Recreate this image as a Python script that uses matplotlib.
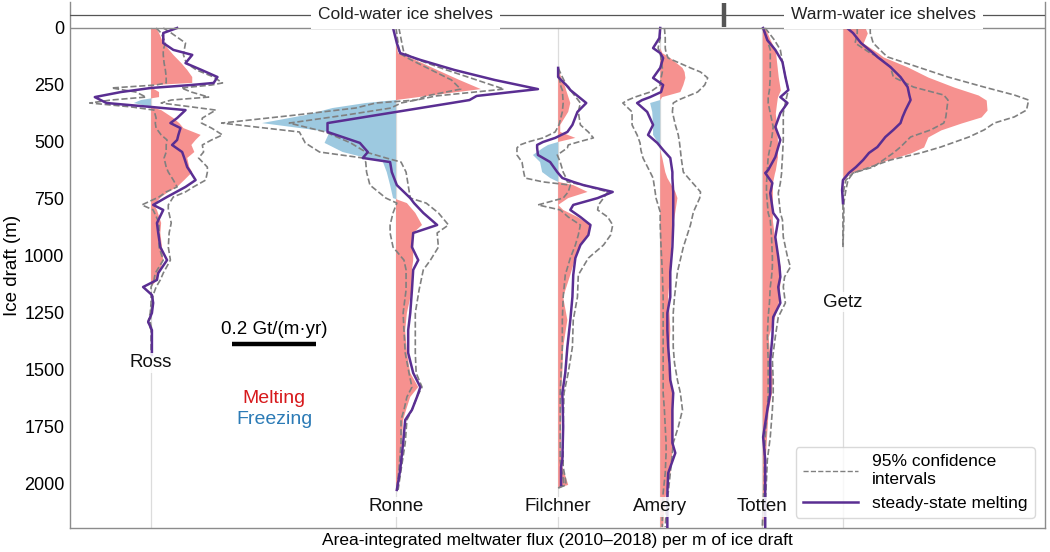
import numpy as np
import matplotlib
matplotlib.use('Agg')
import matplotlib.pyplot as plt
from matplotlib.lines import Line2D

plt.rcParams['font.family'] = ['Liberation Sans', 'DejaVu Sans']

# ---------------- data (depth in m, flux in 1e-3 Gt/(m*yr)) ----------------
shelves = ['Ross', 'Ronne', 'Filchner', 'Amery', 'Totten', 'Getz']

ross_depth = [0, 22, 66, 96, 118, 154, 184, 215, 241, 250, 263, 281, 303, 316, 329, 346, 360, 395, 417, 439,
              469, 491, 513, 544, 570, 610, 632, 667, 697, 719, 741, 776, 798, 855, 899, 961, 1018, 1075, 1105,
              1136, 1171, 1206, 1250, 1289, 1325, 1434]
ross_melt = [12, 19, 29, 43, 53, 72, 86, 98, 98, 5, 2, 19, 19, -24, -41, 0, 24, 53, 67, 77,
             118, 106, 96, 103, 86, 91, 98, 79, 62, 41, 24, 7, 14, 24, 22, 26, 29, 19, 14,
             0, 0, 0, 0, 0, 0, 0]
ross_steady = [62, 29, 29, 53, 98, 82, 120, 158, 149, 96, 0, -72, -134, -120, -106, -2, 82, 62, 46, 70,
               65, 62, 50, 74, 79, 86, 94, 106, 82, 60, 38, 5, 29, 14, 17, 22, 38, 17, 14,
               -19, 2, 5, 2, -7, 2, 2]
ross_ci_low = [12, 24, 34, 29, 29, 31, 34, 36, 36, 12, -94, -36, -12, -96, -146, -48, 7, 12, 10, 12,
               24, 38, 36, 36, 31, 36, 41, 53, 62, 36, 19, -22, 5, 19, 19, 19, 29, 10, 7,
               0, 0, 0, -2, -7, 0, 0]
ross_ci_high = [29, 48, 82, 79, 77, 84, 108, 149, 170, 144, 72, 96, 137, 48, 24, 96, 154, 122, 120, 144,
                170, 144, 122, 125, 113, 134, 134, 130, 101, 82, 53, 41, 41, 48, 43, 41, 46, 29, 22,
                12, 5, 2, 0, -2, 2, 2]

ronne_depth = [0, 66, 110, 140, 184, 228, 268, 298, 316, 329, 351, 382, 417, 456, 504, 544, 570, 588, 632,
               689, 746, 768, 811, 864, 899, 961, 1018, 1061, 1149, 1250, 1325, 1425, 1513, 1575, 1618,
               1675, 1719, 1820, 1939, 2026]
ronne_melt = [0, 0, 5, 46, 98, 151, 202, 74, 0, -72, -151, -216, -319, -158, -170, -127, -70, -31, -22,
              -14, -7, 26, 46, 62, 41, 41, 41, 38, 38, 26, 22, 26, 34, 53, 34,
              24, 17, 14, 7, 0]
ronne_steady = [-7, 2, 10, 58, 139, 235, 338, 192, 175, 132, 58, -46, -163, -163, -86, -67, -79, -14, -10,
                2, 34, 43, 65, 98, 41, 38, 53, 41, 38, 34, 29, 29, 41, 58, 50,
                38, 22, 17, 10, 2]
ronne_ci_low = [0, 5, 7, 36, 84, 132, 154, 72, 48, -48, -96, -240, -415, -230, -216, -182, -79, -72, -70,
                -62, -24, 2, -7, -14, -14, -7, 19, 24, 24, 17, 19, 22, 31, 38, 26,
                19, 12, 12, 7, 2]
ronne_ci_high = [7, 14, 19, 53, 120, 192, 257, 96, 48, 12, -12, -120, -254, -168, -108, -72, -24, 12, 24,
                 29, 34, 72, 101, 125, 98, 101, 82, 65, 55, 46, 46, 46, 48, 62, 50,
                 38, 26, 22, 12, 5]

filchner_depth = [175, 215, 259, 272, 329, 368, 425, 456, 482, 500, 513, 526, 557, 588, 632, 658, 675, 689,
                  719, 746, 776, 798, 829, 864, 908, 952, 1009, 1083, 1180, 1281, 1399, 1513, 1601, 1750,
                  1895, 1925, 1974, 2004, 2018]
filchner_melt = [0, 7, 17, 19, 29, 24, 5, 5, 41, 0, -24, -36, -60, -43, -38, -19, 0, 36,
                 70, 24, 0, 12, 46, 77, 72, 53, 41, 29, 12, 22, 12, 10, 7, 7,
                 7, 10, 19, 24, 0]
filchner_steady = [0, 0, 24, 29, 67, 46, 34, 22, -7, -36, -50, -50, -48, -19, -2, 10, 36, 60,
                   130, 94, 36, 29, 53, 77, 72, 53, 41, 36, 34, 29, 22, 17, 10, 12,
                   10, 7, 7, 7, np.nan]
filchner_ci_low = [0, 2, 7, 10, 12, 10, 2, -7, -36, -72, -91, -98, -98, -86, -82, -79, -36, 29,
                   24, 12, -48, 5, 24, 53, 48, 41, 29, 17, 12, 10, 10, 7, 5, 5,
                   5, 7, 12, 14, 0]
filchner_ci_high = [0, 10, 22, 29, 53, 48, 53, 72, 84, 48, 24, 22, -2, 5, 12, 19, 22, 60,
                    118, 108, 96, 94, 118, 130, 125, 108, 72, 48, 46, 36, 34, 24, 14, 12,
                    12, 12, 17, 19, 0]

amery_depth = [0, 44, 88, 110, 132, 175, 193, 219, 250, 281, 303, 316, 329, 368, 425, 469, 504, 535, 570,
               632, 658, 719, 746, 807, 864, 961, 1070, 1180, 1250, 1325, 1399, 1469, 1544, 1601, 1675,
               1750, 1820, 1864, 1952, 2039, 2114, 2189]
amery_melt = [0, 0, 0, 5, 24, 53, 58, 60, 55, 48, 5, 0, -24, -19, -17, -17, -5, 0, 5,
              12, 17, 36, 41, 36, 31, 26, 24, 19, 22, 24, 22, 19, 24, 29, 31,
              31, 31, 29, 24, 14, 10, 7]
amery_steady = [0, -2, -17, 0, 7, 0, -7, -17, 7, 2, -24, -43, -55, -31, -17, -29, -7, 7, 24,
                29, 29, 31, 31, 31, 31, 29, 24, 24, 17, 17, 19, 22, 24, 31, 29,
                29, 29, 36, 19, 17, 17, 17]
amery_ci_low = [0, 0, -5, 0, 2, 5, 5, 2, 0, -24, -60, -77, -89, -67, -67, -55, -48, -46, -41,
                -24, -17, -12, -10, 0, 0, 2, 5, 7, 7, 7, 7, 7, 7, 7, 10,
                12, 14, 14, 12, 7, 5, 5]
amery_ci_high = [10, 12, 12, 14, 19, 72, 96, 113, 106, 89, 60, 43, 31, 29, 36, 43, 46, 48, 50,
                 55, 67, 96, 94, 79, 72, 55, 41, 34, 31, 31, 31, 34, 41, 48, 53,
                 43, 31, 29, 24, 19, 14, 12]

totten_depth = [0, 53, 96, 149, 215, 272, 303, 329, 373, 434, 491, 566, 623, 636, 680, 724, 811, 842,
                917, 1004, 1048, 1092, 1136, 1206, 1268, 1355, 1456, 1544, 1601, 1675, 1794, 1895,
                1982, 2083, 2193]
totten_melt = [7, 19, 31, 34, 38, 43, 36, 34, 31, 34, 36, 36, 31, 29, 24, 24, 24, 24,
               29, 38, 43, 43, 41, 38, 29, 14, 19, 24, 22, 14, 10, 7,
               7, 5, 0]
totten_steady = [2, 12, 31, 48, 55, 62, 43, 60, 43, 31, 43, 31, 14, 7, 24, 19, 26, 38,
                 31, 38, 41, 43, 38, 43, 26, 24, 19, 19, 19, 12, 2, 7,
                 7, 7, 7]
totten_ci_low = [2, 12, 19, 19, 19, 17, 14, 14, 19, 26, 22, 14, 12, 12, 10, 10, 14, 19,
                 22, 24, 24, 22, 19, 17, 14, 12, 14, 14, 14, 12, 7, 5,
                 5, 2, 0]
totten_ci_high = [7, 29, 43, 48, 55, 62, 58, 55, 50, 50, 50, 48, 46, 46, 43, 38, 43, 48,
                  50, 60, 67, 53, 50, 55, 38, 31, 24, 26, 26, 24, 19, 12,
                  10, 7, 5]

getz_depth = [0, 22, 66, 110, 127, 171, 215, 259, 294, 316, 360, 390, 417, 447, 478, 522, 548, 579,
              610, 636, 667, 711, 768, 842, 961]
getz_melt = [53, 58, 48, 84, 96, 154, 202, 264, 322, 341, 343, 329, 281, 233, 202, 192, 161, 106,
             58, 17, 2, 0, 0, 0, 0]
getz_steady = [10, 24, 43, 72, 82, 113, 137, 154, 158, 161, 149, 142, 137, 120, 101, 82, 62, 48,
               31, 14, 0, -2, 0, np.nan, np.nan]
getz_ci_low = [34, 34, 29, 65, 84, 113, 120, 168, 240, 250, 247, 245, 240, 209, 161, 137, 120, 96,
               72, 24, 7, 2, 0, 0, 0]
getz_ci_high = [65, 65, 72, 96, 106, 178, 250, 336, 408, 442, 437, 408, 360, 336, 300, 233, 185, 113,
                65, 24, 12, 7, 2, 2, 0]

ytick_values = [0, 250, 500, 750, 1000, 1250, 1500, 1750, 2000]
scale_bar_value = 0.2  # Gt/(m*yr)

# ---------------- layout (positions only) ----------------
base_x = {'Ross': 0.193, 'Ronne': 0.776, 'Filchner': 1.162, 'Amery': 1.405,
          'Totten': 1.648, 'Getz': 1.840}
label_y = {'Ross': 1469, 'Ronne': 2100, 'Filchner': 2100, 'Amery': 2100,
           'Totten': 2100, 'Getz': 1202}

data = {
    'Ross': (ross_depth, ross_melt, ross_steady, ross_ci_low, ross_ci_high),
    'Ronne': (ronne_depth, ronne_melt, ronne_steady, ronne_ci_low, ronne_ci_high),
    'Filchner': (filchner_depth, filchner_melt, filchner_steady, filchner_ci_low, filchner_ci_high),
    'Amery': (amery_depth, amery_melt, amery_steady, amery_ci_low, amery_ci_high),
    'Totten': (totten_depth, totten_melt, totten_steady, totten_ci_low, totten_ci_high),
    'Getz': (getz_depth, getz_melt, getz_steady, getz_ci_low, getz_ci_high),
}

RED = '#f6918f'
BLUE = '#9dc9e0'
PURPLE = '#5a2e92'
GRAY = '#808080'
SPINE = '#8c8c8c'

fig = plt.figure(figsize=(10.5, 5.52), dpi=100)
ax = fig.add_axes([70 / 1050, 1 - 528 / 552, 975 / 1050, 526 / 552])
ax.set_xlim(0, 2.321)
ax.set_ylim(2193, -114)

for name in shelves:
    d, m, s, lo, hi = data[name]
    d = np.array(d, float)
    m = np.array(m, float) / 1000.0
    s = np.array(s, float) / 1000.0
    lo = np.array(lo, float) / 1000.0
    hi = np.array(hi, float) / 1000.0
    b = base_x[name]
    ax.axvline(b, ymin=0, ymax=(2193) / (2193 + 114), color='#dcdcdc', lw=0.9, zorder=0)
    ax.fill_betweenx(d, b, b + m, where=m >= 0, interpolate=True, color=RED, lw=0, zorder=1)
    ax.fill_betweenx(d, b, b + m, where=m <= 0, interpolate=True, color=BLUE, lw=0, zorder=1)
    ax.plot(b + lo, d, color=GRAY, lw=1.2, ls='--', zorder=2)
    ax.plot(b + hi, d, color=GRAY, lw=1.2, ls='--', zorder=2)
    ax.plot(b + s, d, color=PURPLE, lw=1.8, zorder=3)
    ax.text(b, label_y[name], name, ha='center', va='center', fontsize=13.5, color='#111111', zorder=4,
            bbox=dict(facecolor='white', edgecolor='none', pad=1.0, alpha=0.85))

# header
ax.axhline(0, color=SPINE, lw=1.0, zorder=3)
ax.axhline(-57, color='#555555', lw=0.9, zorder=3)
ax.plot([1.557, 1.557], [-110, -4], color='#555555', lw=3.2, solid_capstyle='butt', zorder=4)
ax.text(0.798, -57, 'Cold-water ice shelves', ha='center', va='center', fontsize=12.5, color='#222222',
        bbox=dict(facecolor='white', edgecolor='none', pad=5), zorder=5)
ax.text(1.936, -57, 'Warm-water ice shelves', ha='center', va='center', fontsize=12.5, color='#222222',
        bbox=dict(facecolor='white', edgecolor='none', pad=5), zorder=5)

# scale bar
x0 = 0.386
ax.plot([x0, x0 + scale_bar_value], [1386, 1386], color='black', lw=3.2, solid_capstyle='butt')
ax.text(x0 + scale_bar_value / 2, 1360, '0.2 Gt/(m·yr)', ha='center', va='bottom', fontsize=13.5)

# melting / freezing legend text
ax.text(0.486, 1623, 'Melting', ha='center', va='center', fontsize=14, color='#d7191c')
ax.text(0.486, 1719, 'Freezing', ha='center', va='center', fontsize=14, color='#2c7bb6')

# axes styling
ax.set_yticks(ytick_values)
ax.set_yticklabels([str(v) for v in ytick_values])
ax.set_xticks([])
ax.tick_params(axis='y', length=0, pad=4, labelsize=13)
for sp in ['left', 'bottom', 'right']:
    ax.spines[sp].set_color(SPINE)
    ax.spines[sp].set_linewidth(1.0)
ax.spines['top'].set_visible(False)
ax.set_ylabel('Ice draft (m)', fontsize=13.5)
ax.yaxis.set_label_coords(-0.05, 0.5)
fig.text(557.5 / 1050, 1 - 540 / 552, 'Area-integrated meltwater flux (2010–2018) per m of ice draft',
         ha='center', va='center', fontsize=12.5)

handles = [Line2D([], [], color=GRAY, lw=1.0, ls='--'),
           Line2D([], [], color=PURPLE, lw=1.8)]
leg = ax.legend(handles, ['95% confidence\nintervals', 'steady-state melting'], loc='lower right',
                fontsize=12.5, frameon=True, fancybox=True, handlelength=3.2, borderaxespad=0.6)
leg.get_frame().set_edgecolor('#d0d0d0')

fig.savefig('out.png', dpi=100)
